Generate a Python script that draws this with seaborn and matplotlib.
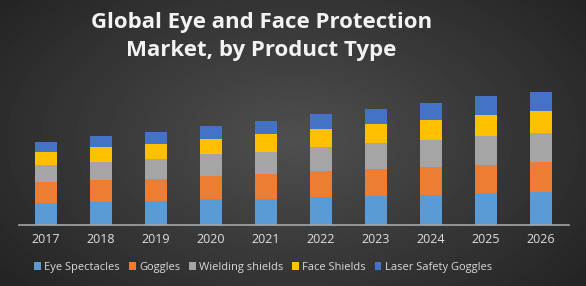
import numpy as np
import pandas as pd
import matplotlib.pyplot as plt
import seaborn as sns

# Values (arbitrary units, no y axis shown)
years = ["2017", "2018", "2019", "2020", "2021", "2022", "2023", "2024", "2025", "2026"]
eye_spectacles = [22.3, 23.3, 24.0, 25.7, 26.3, 28.0, 29.0, 30.0, 31.7, 32.7]
goggles = [21.0, 21.7, 22.0, 23.6, 24.6, 26.0, 27.0, 28.3, 28.3, 30.6]
wielding_shields = [16.7, 18.3, 19.7, 21.7, 22.3, 23.7, 25.7, 26.7, 29.3, 28.4]
face_shields = [13.3, 14.4, 15.3, 15.0, 17.7, 18.3, 19.0, 20.0, 20.7, 22.3]
laser_goggles = [10.0, 11.3, 12.3, 12.6, 13.3, 15.0, 15.3, 17.3, 19.0, 19.3]

series = ["Eye Spectacles", "Goggles", "Wielding shields", "Face Shields", "Laser Safety Goggles"]
colors = ["#5B9BD5", "#ED7D31", "#A5A5A5", "#FFC000", "#4472C4"]

df = pd.DataFrame({
    "Year": years,
    "Eye Spectacles": eye_spectacles,
    "Goggles": goggles,
    "Wielding shields": wielding_shields,
    "Face Shields": face_shields,
    "Laser Safety Goggles": laser_goggles,
})

sns.set_style("dark")
plt.rcParams['font.family'] = ['Open Sans', 'DejaVu Sans']

fig = plt.figure(figsize=(5.86, 2.86), dpi=100)

# dark radial gradient background
bg = fig.add_axes([0, 0, 1, 1], zorder=0)
yy, xx = np.mgrid[0:286, 0:586]
r = np.sqrt(((xx - 293) / 330.0) ** 2 + ((yy - 140) / 200.0) ** 2)
shade = np.clip(0.31 - 0.15 * r, 0.13, 0.31)
bg.imshow(shade, cmap="gray", vmin=0, vmax=1, aspect="auto")
bg.axis("off")

ax = fig.add_axes([0.0316, 0.2133, 0.9386, 0.4895], zorder=1)
ax.patch.set_alpha(0)

bottom = np.zeros(len(years))
for name, col in zip(series, colors):
    sns.barplot(data=df, x="Year", y=name, color=col, width=0.4,
                bottom=bottom, ax=ax, label=name, saturation=1,
                linewidth=0, edgecolor="none")
    bottom = bottom + df[name].values

handles, labels = ax.get_legend_handles_labels()
if ax.get_legend() is not None:
    ax.get_legend().remove()

ax.set_xlim(-0.5, 9.5)
ax.set_ylim(0, 140)
ax.set_xlabel("")
ax.set_ylabel("")
ax.set_yticks([])
ax.grid(False)
for s in ["top", "right", "left"]:
    ax.spines[s].set_visible(False)
ax.spines["bottom"].set_color("#a6a6a6")
ax.spines["bottom"].set_linewidth(1.2)
ax.tick_params(axis="x", length=0, pad=6, labelsize=9, labelcolor="#e0e0e0")

fig.text(0.446, 0.92, "Global Eye and Face Protection", ha="center", va="center",
         fontsize=16, fontweight="bold", color="#f2f2f2")
fig.text(0.446, 0.822, "Market, by Product Type", ha="center", va="center",
         fontsize=16, fontweight="bold", color="#f2f2f2")

fig.legend(handles, labels, loc="center", bbox_to_anchor=(0.449, 0.065), ncol=5,
           frameon=False, fontsize=8, labelcolor="#d9d9d9",
           handlelength=0.6, handleheight=0.6, handletextpad=0.3, columnspacing=0.8)

fig.savefig("out.png", dpi=100)
